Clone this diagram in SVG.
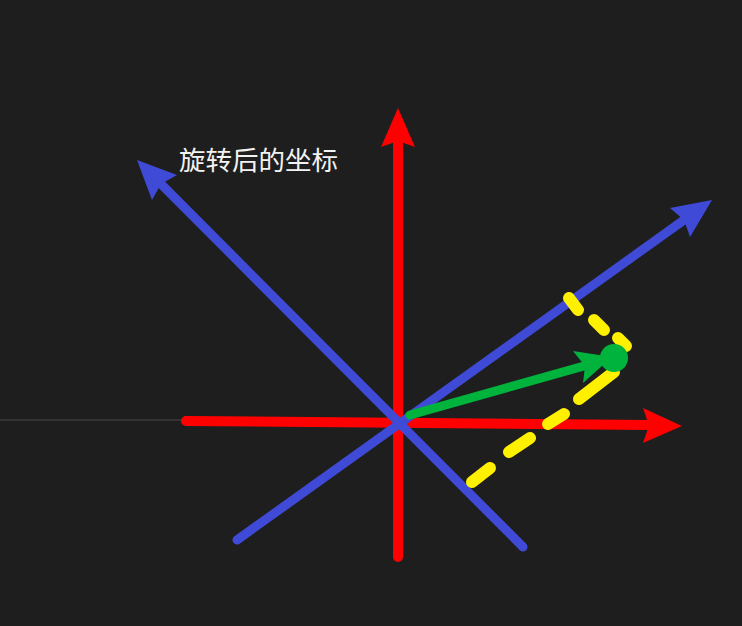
<svg xmlns="http://www.w3.org/2000/svg" width="742" height="626" viewBox="0 0 742 626">
<style>
.red{stroke:#ff0000;stroke-width:10;stroke-linecap:round;fill:none}
.redh{fill:#ff0000}
.blue{stroke:#3f4bd6;stroke-width:9;stroke-linecap:round;fill:none}
.blueh{fill:#3f4bd6}
.yel{stroke:#fff000;stroke-width:12;stroke-linecap:round;fill:none}
.grn{stroke:#00b33c;stroke-width:9;stroke-linecap:round;fill:none}
.grnh{fill:#00b33c}
.lbl{font-family:"Noto Sans CJK SC","Noto Sans",sans-serif;font-size:26.5px;fill:#f2f2f2}
</style>
<rect width="742" height="626" fill="#1e1e1e"/>
<g id="connectors">
  <line x1="0" y1="420" x2="186" y2="420" stroke="#333333" stroke-width="2"/>
  <g id="red-y">
    <line class="red" x1="398" y1="557" x2="398" y2="142"/>
    <polygon class="redh" points="398,108 415,147 398,141 381,147"/>
  </g>
  <g id="red-x">
    <line class="red" x1="186" y1="421" x2="650" y2="425"/>
    <polygon class="redh" points="682,426 643,443 649,425.5 643,408"/>
  </g>
  <g id="blue-a">
    <line class="blue" x1="237" y1="540" x2="684" y2="220"/>
    <polygon class="blueh" points="712,200 690,237 684,220 670,208"/>
  </g>
  <g id="blue-b">
    <line class="blue" x1="523" y1="547" x2="161" y2="184"/>
    <polygon class="blueh" points="137,160 177,175 161,184 152,200"/>
  </g>
  <g id="yellow-dashes">
    <line class="yel" x1="569" y1="298" x2="578" y2="310"/>
    <line class="yel" x1="594" y1="320" x2="604" y2="330"/>
    <line class="yel" x1="618" y1="338" x2="626" y2="346"/>
    <line class="yel" x1="579" y1="399" x2="614" y2="372"/>
    <line class="yel" x1="548" y1="424" x2="564" y2="414"/>
    <line class="yel" x1="509" y1="452" x2="530" y2="438"/>
    <line class="yel" x1="472" y1="482" x2="490" y2="468"/>
  </g>
  <g id="green-vector">
    <line class="grn" x1="410" y1="415" x2="584" y2="366"/>
    <polygon class="grnh" points="612,357 583,383 585,366 573,351"/>
  </g>
</g>
<g id="point">
  <circle cx="614" cy="358" r="14" fill="#00b33c"/>
</g>
<g id="label">
  <text class="lbl" x="179" y="170">旋转后的坐标</text>
</g>
</svg>
